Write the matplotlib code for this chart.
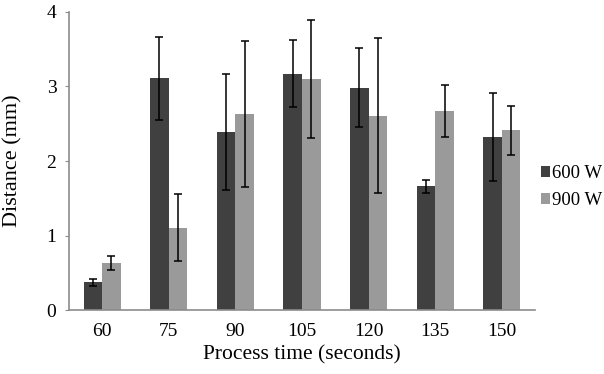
import numpy as np
import matplotlib.pyplot as plt

plt.rcParams['font.family'] = ['Liberation Serif', 'DejaVu Serif']

times = ["60", "75", "90", "105", "120", "135", "150"]
w600 = [0.37, 3.11, 2.39, 3.17, 2.98, 1.66, 2.32]
w600_err = [0.05, 0.56, 0.78, 0.45, 0.53, 0.09, 0.59]
w900 = [0.635, 1.105, 2.635, 3.10, 2.61, 2.67, 2.41]
w900_err = [0.095, 0.45, 0.98, 0.79, 1.04, 0.35, 0.33]

dark = "#404040"
light = "#9a9a9a"
axis_grey = "#8c8c8c"

fig = plt.figure(figsize=(6.04, 3.74), dpi=100)
ax = fig.add_axes([0.114, 0.171, 0.772, 0.797])

x = np.arange(len(times))
bw = 0.28
err_kw = dict(ecolor="black", elinewidth=1.1, capsize=3, capthick=1.1)
ax.bar(x - bw/2, w600, bw, color=dark, yerr=w600_err, error_kw=err_kw, label="600 W")
ax.bar(x + bw/2, w900, bw, color=light, yerr=w900_err, error_kw=err_kw, label="900 W")

ax.set_xlim(-0.5, len(times) - 0.5)
ax.set_ylim(0, 4)
ax.set_yticks([0, 1, 2, 3, 4])
ax.set_xticks(x)
ax.set_xticklabels(times)

for s in ["top", "right"]:
    ax.spines[s].set_visible(False)
for s in ["left", "bottom"]:
    ax.spines[s].set_color(axis_grey)
    ax.spines[s].set_linewidth(1.2)
ax.tick_params(axis="y", length=3, color=axis_grey, labelsize=14, pad=6)
ax.tick_params(axis="x", length=0, labelsize=14, pad=9)

ax.set_xlabel("Process time (seconds)", fontsize=15.5)
ax.set_ylabel("Distance (mm)", fontsize=16)
ax.xaxis.set_label_coords(0.5, -0.118)
ax.yaxis.set_label_coords(-0.10, 0.5)

ax.legend(loc="center left", bbox_to_anchor=(541 / 604, 0.50),
          bbox_transform=fig.transFigure, frameon=False,
          fontsize=13.5, handlelength=0.5, handleheight=0.5, handletextpad=0.1,
          labelspacing=0.55, borderaxespad=0, borderpad=0)

fig.savefig("out.png", dpi=100)
